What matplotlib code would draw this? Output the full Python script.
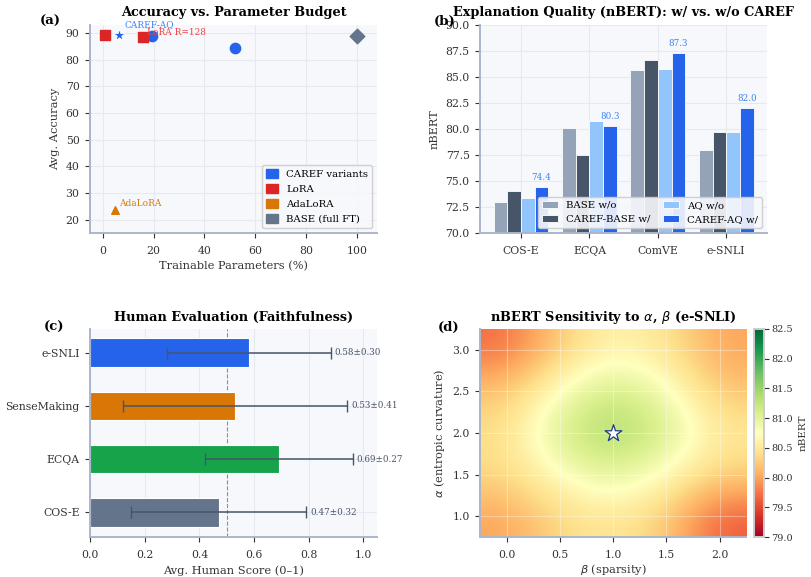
import numpy as np
import matplotlib
matplotlib.use("Agg")
import matplotlib.pyplot as plt
from matplotlib.patches import Patch

plt.rcParams["font.family"] = ["DejaVu Serif"]
plt.rcParams["axes.facecolor"] = "#f7f8fc"
plt.rcParams["axes.edgecolor"] = "#aab6cc"
plt.rcParams["axes.linewidth"] = 1.4
plt.rcParams["grid.color"] = "#e6e9f0"
plt.rcParams["grid.linewidth"] = 0.8
plt.rcParams["xtick.color"] = "#333333"
plt.rcParams["ytick.color"] = "#333333"
plt.rcParams["xtick.labelsize"] = 7.8
plt.rcParams["ytick.labelsize"] = 7.8
plt.rcParams["xtick.major.pad"] = 5.5
plt.rcParams["ytick.major.pad"] = 4
plt.rcParams["axes.labelcolor"] = "#333333"
plt.rcParams["axes.labelsize"] = 8.2

BLUE = "#2563eb"
RED = "#dc2626"
ORANGE = "#d97706"
SLATE = "#64748b"
GREEN = "#16a34a"

# (a) accuracy vs parameter budget
caref_x = [19.5, 52.2]
caref_y = [88.8, 84.2]
aq_x, aq_y = 6.4, 89.1
lora_x = [0.8, 15.8]
lora_y = [89.1, 88.6]
adalora_x, adalora_y = 4.7, 23.5
base_x, base_y = 100, 88.7

# (b) explanation quality
datasets_b = ["COS-E", "ECQA", "ComVE", "e-SNLI"]
base_wo = [73.0, 80.1, 85.7, 78.0]
caref_base_w = [74.0, 77.5, 86.6, 79.7]
aq_wo = [73.4, 80.8, 85.8, 79.7]
caref_aq_w = [74.4, 80.3, 87.3, 82.0]

# (c) human evaluation
datasets_c = ["COS-E", "ECQA", "SenseMaking", "e-SNLI"]
human_mean = [0.47, 0.69, 0.53, 0.58]
human_std = [0.32, 0.27, 0.41, 0.30]
human_colors = [SLATE, GREEN, ORANGE, BLUE]

# (d) sensitivity grid (rows: alpha, cols: beta)
betas = [0.0, 0.5, 1.0, 1.5, 2.0]
alphas = [1.0, 1.5, 2.0, 2.5, 3.0]
nbert_grid = np.array([
    [80.0, 80.35, 80.5, 80.25, 79.6],
    [80.35, 80.75, 81.05, 80.7, 80.3],
    [80.4, 81.15, 81.45, 81.15, 80.5],
    [80.2, 80.8, 81.2, 80.85, 80.2],
    [79.7, 80.25, 80.65, 80.45, 80.0],
])

fig = plt.figure(figsize=(8.11, 5.77), dpi=100)
ax_a = fig.add_axes([0.111, 0.596, 0.354, 0.361])
ax_b = fig.add_axes([0.592, 0.596, 0.354, 0.361])
ax_c = fig.add_axes([0.111, 0.069, 0.354, 0.361])
ax_d = fig.add_axes([0.592, 0.069, 0.328, 0.361])
cax = fig.add_axes([0.930, 0.069, 0.012, 0.361])

for ax in [ax_a, ax_b, ax_c]:
    ax.spines["top"].set_visible(False)
    ax.spines["right"].set_visible(False)
    ax.grid(True)
    ax.set_axisbelow(True)

# ---- (a)
ax_a.scatter(caref_x, caref_y, s=55, c=BLUE, marker="o", zorder=3)
ax_a.scatter([aq_x], [aq_y], s=80, c=BLUE, marker="*", edgecolors="white", linewidths=0.6, zorder=3)
ax_a.scatter(lora_x, lora_y, s=55, c=RED, marker="s", zorder=3)
ax_a.scatter([adalora_x], [adalora_y], s=30, c=ORANGE, marker="^", zorder=3)
ax_a.scatter([base_x], [base_y], s=55, c=SLATE, marker="D", zorder=3)
ax_a.annotate("CAREF-AQ", (aq_x, aq_y), xytext=(4, 6), textcoords="offset points",
              fontsize=6.5, color="#3b82f6")
ax_a.annotate("LoRA R=128", (lora_x[1], lora_y[1]), xytext=(3, 1), textcoords="offset points",
              fontsize=6.5, color="#ef4444")
ax_a.annotate("AdaLoRA", (adalora_x, adalora_y), xytext=(3, 3), textcoords="offset points",
              fontsize=6.5, color=ORANGE,
              arrowprops=dict(arrowstyle="-", color=ORANGE, lw=0.8))
ax_a.set_xlim(-5, 108)
ax_a.set_ylim(15, 93)
ax_a.set_xticks([0, 20, 40, 60, 80, 100])
ax_a.set_yticks([20, 30, 40, 50, 60, 70, 80, 90])
ax_a.set_xlabel("Trainable Parameters (%)")
ax_a.set_ylabel("Avg. Accuracy")
ax_a.set_title("Accuracy vs. Parameter Budget", fontsize=9.3, fontweight="bold")
handles = [Patch(color=BLUE, label="CAREF variants"), Patch(color=RED, label="LoRA"),
           Patch(color=ORANGE, label="AdaLoRA"), Patch(color=SLATE, label="BASE (full FT)")]
ax_a.legend(handles=handles, loc="lower right", fontsize=7.3, framealpha=0.9,
            handlelength=1.2, handleheight=1.0)
ax_a.text(-0.175, 1.0, "(a)", transform=ax_a.transAxes, fontsize=9.5, fontweight="bold")

# ---- (b)
x = np.arange(len(datasets_b))
w = 0.2
series = [(base_wo, "#94a3b8", "BASE w/o"), (caref_base_w, "#475569", "CAREF-BASE w/"),
          (aq_wo, "#93c5fd", "AQ w/o"), (caref_aq_w, BLUE, "CAREF-AQ w/")]
for i, (vals, col, lab) in enumerate(series):
    ax_b.bar(x + (i - 1.5) * w, vals, width=w, color=col, edgecolor="white", linewidth=0.6,
             label=lab, zorder=2)
for xi, v in zip(x, caref_aq_w):
    ax_b.text(xi + 1.5 * w, v + 0.5, f"{v:.1f}", ha="center", va="bottom", fontsize=6.3,
              color="#3b82f6")
ax_b.set_ylim(70, 90)
ax_b.set_xlim(-0.6, 3.6)
ax_b.set_xticks(x)
ax_b.set_xticklabels(datasets_b)
ax_b.set_ylabel("nBERT")
ax_b.set_title("Explanation Quality (nBERT): w/ vs. w/o CAREF", fontsize=9.3, fontweight="bold")
ax_b.legend(loc="lower right", ncol=2, fontsize=7.3, framealpha=0.9, handlelength=1.6,
            columnspacing=1.2)
ax_b.text(-0.16, 1.0, "(b)", transform=ax_b.transAxes, fontsize=9.5, fontweight="bold")

# ---- (c)
y = np.arange(len(datasets_c))
ax_c.barh(y, human_mean, height=0.54, color=human_colors, edgecolor="white", linewidth=0.8, zorder=2)
ax_c.errorbar(human_mean, y, xerr=human_std, fmt="none", ecolor="#475569", elinewidth=1.1,
              capsize=4, zorder=3)
for yi, m, s in zip(y, human_mean, human_std):
    ax_c.text(m + s + 0.015, yi, f"{m:.2f}±{s:.2f}", va="center", fontsize=6.3, color="#475569")
ax_c.axvline(0.5, color="#7f8fb0", ls="--", lw=0.8, zorder=1)
ax_c.set_xlim(0, 1.05)
ax_c.set_ylim(-0.47, 3.45)
ax_c.set_yticks(y)
ax_c.set_yticklabels(datasets_c)
ax_c.set_xlabel("Avg. Human Score (0–1)")
ax_c.set_title("Human Evaluation (Faithfulness)", fontsize=9.3, fontweight="bold")
ax_c.text(-0.16, 0.99, "(c)", transform=ax_c.transAxes, fontsize=9.5, fontweight="bold")

# ---- (d)
im = ax_d.imshow(nbert_grid, origin="lower", cmap="RdYlGn", vmin=79, vmax=82.5,
                 extent=[-0.25, 2.25, 0.75, 3.25], aspect="auto", interpolation="bicubic")
ax_d.scatter([1.0], [2.0], marker="*", s=160, c="white", edgecolors="#1e3a8a", linewidths=0.9, zorder=3)
ax_d.grid(True, color="white", alpha=0.35, lw=0.8)
ax_d.set_xticks(betas)
ax_d.set_yticks(alphas)
for sp in ["top", "right"]:
    ax_d.spines[sp].set_visible(False)
ax_d.set_xlabel(r"$\beta$ (sparsity)", labelpad=2)
ax_d.set_ylabel(r"$\alpha$ (entropic curvature)")
ax_d.set_title(r"nBERT Sensitivity to $\alpha$, $\beta$ (e-SNLI)", fontsize=9.3, fontweight="bold")
ax_d.text(-0.16, 0.99, "(d)", transform=ax_d.transAxes, fontsize=9.5, fontweight="bold")
cb = fig.colorbar(im, cax=cax)
cb.set_ticks(np.arange(79, 82.51, 0.5))
cb.ax.tick_params(labelsize=7, pad=2)
cb.set_label("nBERT", fontsize=7.5)
cb.outline.set_edgecolor("#cccccc")

fig.savefig("out.png", dpi=100)
